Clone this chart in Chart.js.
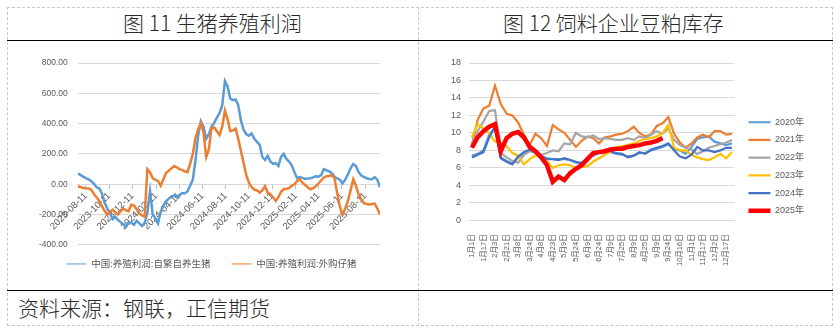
<!DOCTYPE html>
<html>
<head>
<meta charset="utf-8">
<script src="https://cdn.jsdelivr.net/npm/chart.js@4.4.1/dist/chart.umd.min.js"></script>
<style>
  body { margin: 0; width: 840px; height: 330px; background: #fff; position: relative; overflow: hidden;
         font-family: "Noto Sans CJK SC", sans-serif; }
  .frame { position: absolute; left: 7px; top: 7px; width: 826px; height: 319px; box-sizing: border-box;
           border: 1px dashed #c8c8c8; }
  .vdiv { position: absolute; left: 418px; top: 7px; height: 319px; border-left: 1px dashed #c8c8c8; }
  .rule { position: absolute; left: 7px; width: 826px; border-top: 1.5px solid #000; }
  .title { position: absolute; top: 8px; font-size: 21px; line-height: 28px; color: #2a2a2a; white-space: nowrap; font-weight: 300; }
  .src { position: absolute; left: 18px; top: 293px; font-size: 21px; line-height: 28px; color: #2a2a2a; white-space: nowrap; font-weight: 300; }
  canvas { position: absolute; }
</style>
</head>
<body>
<div class="frame"></div>
<div class="vdiv"></div>
<div class="rule" style="top:40px"></div>
<div class="rule" style="top:290px"></div>
<div class="title" style="left:123px">图 11 生猪养殖利润</div>
<div class="title" style="left:503px">图 12 饲料企业豆粕库存</div>
<div class="src">资料来源：钢联，正信期货</div>
<canvas id="profit" width="408" height="248" style="left:8px;top:42px"></canvas>
<canvas id="stock" width="413" height="248" style="left:419px;top:42px"></canvas>
<script>
// ---- 图11: weekly hog farming profit, yuan/head ----
const firstWeek = '2023-07-21';
const profitTicks = ['2023-08-11', '2023-10-11', '2023-12-11', '2024-02-11', '2024-04-11', '2024-06-11',
    '2024-08-11', '2024-10-11', '2024-12-11', '2025-02-11', '2025-04-11', '2025-06-11', '2025-08-11'];
const profitLabels = ['中国:养殖利润:自繁自养生猪', '中国:养殖利润:外购仔猪'];
const profitSelfBred = [
    70, 62, 50, 40, 33, 20, 5, -20, -27, -60,
    -120, -160, -190, -230, -215, -235, -250, -265, -280, -250,
    -255, -267, -240, -258, -275, -255, -190, -45, -200, -225,
    -258, -180, -140, -113, -95, -80, -75, -85, -70, -60,
    -60, -47, -10, 30, 160, 320, 415, 380, 300, 330,
    380, 405, 440, 470, 520, 680, 645, 565, 555, 560,
    520, 420, 360, 330, 320, 335, 300, 280, 260, 180,
    160, 187, 150, 135, 140, 120, 180, 200, 167, 150,
    125, 80, 40, 47, 42, 35, 38, 40, 45, 53,
    50, 60, 100, 92, 85, 73, 50, 38, 30, 5,
    30, 65, 105, 133, 120, 80, 58, 48, 40, 35,
    33, 47, 30, -20];
const profitBought = [
    -13, -18, -25, -27, -28, -35, -65, -85, -110, -145,
    -175, -200, -182, -168, -185, -200, -178, -160, -172, -178,
    -135, -140, -165, -193, -205, -213, 100, 80, 40, 30,
    20, -10, 33, 75, 90, 105, 120, 112, 100, 95,
    85, 80, 135, 200, 307, 360, 405, 340, 180, 230,
    370, 375, 350, 325, 380, 487, 430, 350, 355, 367,
    300, 220, 140, 60, 10, -20, -35, -40, -55, -40,
    -13, -55, -65, -85, -110, -85, -50, -33, -30, -25,
    -10, 0, 20, 33, 10, -5, -20, -33, -25, -13,
    5, 25, 45, 53, 55, 60, 40, -60, -150, -200,
    -160, -110, -40, 33, -10, -67, -100, -125, -130, -133,
    -130, -127, -160, -200];

// ---- 图12: feed mill soymeal inventory days, by year ----
const stockDates = ['1月1日', '1月17日', '2月3日', '2月21日', '3月8日', '3月24日', '4月8日', '4月23日',
    '5月9日', '5月24日', '6月9日', '6月24日', '7月9日', '7月25日', '8月9日', '8月25日', '9月9日',
    '9月24日', '10月16日', '11月1日', '11月17日', '12月2日', '12月17日'];
const stockYears = ['2020年', '2021年', '2022年', '2023年', '2024年', '2025年'];
const stock2020 = [7.4, 7.6, 8.0, 9.8, 10.6, 7.2, 6.8, 6.5, 7.2, 7.7, 8.0, 7.7, 7.3, 7.1, 7.0, 7.0,
    7.0, 6.9, 6.6, 6.6, 7.1, 7.4, 7.7, 7.9, 7.8, 7.6, 7.5, 7.3, 7.4, 7.7, 7.7, 8.0,
    8.2, 8.4, 8.7, 8.1, 8.0, 7.6, 8.4, 9.3, 9.5, 9.6, 9.0, 8.8, 8.6, 8.8];
const stock2021 = [8.6, 11.5, 12.8, 13.1, 15.4, 13.3, 12.2, 12.0, 11.2, 9.8, 8.6, 9.9, 9.4, 8.5, 10.9, 10.4,
    10.0, 9.2, 8.4, 9.1, 9.6, 9.4, 8.8, 9.5, 9.6, 9.8, 9.9, 10.2, 10.7, 10.0, 9.6, 9.8,
    10.8, 11.1, 11.8, 9.9, 8.9, 8.3, 8.8, 9.5, 9.8, 9.5, 10.2, 10.2, 9.8, 9.9];
const stock2022 = [8.8, 10.2, 11.3, 12.5, 12.6, 7.7, 7.2, 6.8, 6.6, 7.5, 7.9, 7.8, 7.5, 7.7, 8.0, 7.9,
    8.8, 8.7, 10.0, 9.6, 9.5, 9.7, 9.3, 9.4, 9.3, 9.2, 9.2, 9.4, 9.2, 9.6, 9.4, 9.8,
    10.2, 9.9, 10.5, 9.2, 8.6, 8.3, 8.1, 7.6, 7.9, 8.3, 8.5, 8.7, 8.9, 9.2];
const stock2023 = [9.5, 11.0, 10.5, 9.9, 9.0, 8.8, 8.5, 7.7, 7.4, 6.4, 7.0, 7.4, 7.3, 6.8, 6.0, 6.3,
    6.4, 6.3, 6.0, 6.1, 6.2, 6.7, 7.1, 7.5, 7.8, 8.3, 8.5, 8.6, 8.8, 9.1, 9.3, 9.4,
    9.6, 10.0, 10.9, 8.3, 8.0, 8.0, 7.5, 7.2, 7.0, 6.9, 7.2, 7.6, 7.1, 7.8];
const stock2024 = [7.2, 7.5, 7.8, 9.5, 10.7, 7.1, 6.7, 6.4, 7.3, 7.8, 8.1, 7.8, 7.4, 7.0, 7.0, 6.9,
    7.1, 6.9, 6.7, 6.5, 7.2, 7.5, 7.8, 8.0, 7.9, 7.7, 7.6, 7.2, 7.4, 7.8, 7.6, 8.1,
    8.3, 8.5, 8.8, 8.0, 7.3, 7.1, 7.5, 8.4, 8.0, 8.0, 7.8, 8.0, 8.3, 8.3];
const stock2025 = [8.3, 9.5, 10.2, 10.7, 11.0, 7.9, 9.4, 9.9, 10.1, 9.5, 8.4, 7.9, 7.2, 6.3, 4.4, 5.0,
    4.6, 5.4, 5.9, 6.3, 7.0, 7.7, 7.8, 7.9, 8.1, 8.2, 8.2, 8.4, 8.5, 8.6, 8.8, 8.9,
    9.1, 9.4];

const FONT = '"Liberation Sans", "Noto Sans CJK SC", sans-serif';
const GRID = '#d9d9d9';
const TEXT = '#595959';
Chart.defaults.font.family = FONT;
Chart.defaults.color = TEXT;

// Excel places its legends a few pixels away from where Chart.js puts them.
const legendNudge = {
    id: 'legendNudge',
    afterLayout(chart, args, opts) {
        const legend = chart.legend;
        legend.left += opts.dx || 0;
        legend.right += opts.dx || 0;
        legend.top += opts.dy || 0;
        legend.bottom += opts.dy || 0;
    },
};

const dayOf = (s) => (Date.parse(s) - Date.parse(firstWeek)) / 86400000;

new Chart(document.getElementById('profit'), {
    type: 'line',
    plugins: [legendNudge],
    data: {
        datasets: [
            { label: profitLabels[0], data: profitSelfBred.map((v, i) => ({ x: i * 7, y: v })),
              borderColor: '#5b9bd5', order: 1 },
            { label: profitLabels[1], data: profitBought.map((v, i) => ({ x: i * 7, y: v })),
              borderColor: '#ed7d31', order: 0 },
        ],
    },
    options: {
        responsive: false,
        animation: false,
        layout: { padding: { left: 21, right: 36, top: 21, bottom: 4.6 } },
        elements: {
            line: { borderWidth: 2.5, tension: 0 },
            point: { radius: 0 },
        },
        plugins: {
            tooltip: { enabled: false },
            legendNudge: { dx: 7, dy: -6.7 },
            legend: {
                position: 'bottom',
                labels: {
                    usePointStyle: true, pointStyle: 'line', pointStyleWidth: 20,
                    padding: 21, color: TEXT, font: { size: 9.5 },
                    sort: (a, b) => a.datasetIndex - b.datasetIndex,
                },
            },
        },
        scales: {
            x: {
                type: 'linear',
                position: { y: 0 },
                min: 0,
                max: (profitSelfBred.length - 1) * 7,
                afterBuildTicks: (scale) => { scale.ticks = profitTicks.map((d) => ({ value: dayOf(d) })); },
                ticks: {
                    autoSkip: false, minRotation: 45, maxRotation: 45, padding: 2,
                    font: { size: 9.5 }, color: TEXT,
                    callback: (v) => profitTicks.find((d) => dayOf(d) === v),
                },
                grid: { drawOnChartArea: false, tickLength: 4, color: '#bfbfbf' },
                border: { color: GRID },
            },
            y: {
                min: -400, max: 800,
                ticks: { stepSize: 200, padding: 10, font: { size: 8.5 }, color: TEXT,
                         callback: (v) => v.toFixed(2) },
                grid: { color: GRID, drawTicks: false },
                border: { display: false },
            },
        },
    },
});

const yearColors = ['#5b9bd5', '#ed7d31', '#a5a5a5', '#ffc000', '#4472c4', '#ff0000'];
const stockSeries = [stock2020, stock2021, stock2022, stock2023, stock2024, stock2025];

new Chart(document.getElementById('stock'), {
    type: 'line',
    plugins: [legendNudge],
    data: {
        datasets: stockYears.map((name, k) => ({
            label: name,
            data: stockSeries[k].map((v, i) => ({ x: i, y: v })),
            borderColor: yearColors[k],
            borderWidth: k === 5 ? 4.5 : 2.2,
            order: stockYears.length - k,
        })),
    },
    options: {
        responsive: false,
        animation: false,
        layout: { padding: { left: 24, right: 23, top: 21, bottom: 18 } },
        elements: {
            line: { tension: 0 },
            point: { radius: 0 },
        },
        plugins: {
            tooltip: { enabled: false },
            legendNudge: { dx: 5, dy: -1 },
            legend: {
                position: 'right',
                labels: {
                    usePointStyle: true, pointStyle: 'line', pointStyleWidth: 22,
                    padding: 8.7, color: TEXT, font: { size: 9 },
                    sort: (a, b) => a.datasetIndex - b.datasetIndex,
                },
            },
        },
        scales: {
            x: {
                type: 'linear',
                min: -0.5, max: 45.5,
                afterBuildTicks: (scale) => { scale.ticks = stockDates.map((d, k) => ({ value: k * 2 })); },
                ticks: {
                    autoSkip: false, minRotation: 90, maxRotation: 90, padding: 6,
                    font: { size: 7.5 }, color: TEXT,
                    callback: (v) => stockDates[v / 2],
                },
                grid: { display: false },
                border: { display: false },
            },
            y: {
                min: 0, max: 18,
                ticks: { stepSize: 2, padding: 8, font: { size: 9 }, color: TEXT },
                grid: { color: GRID, drawTicks: false },
                border: { display: false },
            },
        },
    },
});
</script>
</body>
</html>
